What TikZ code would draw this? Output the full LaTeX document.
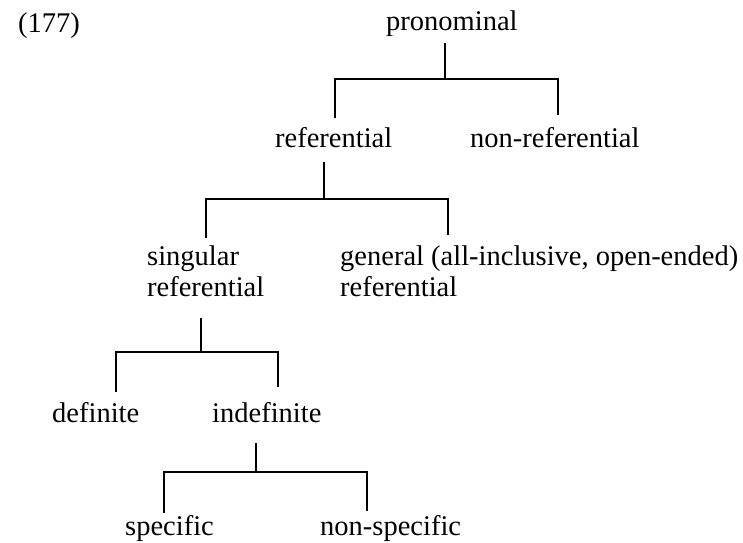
\documentclass[tikz,border=0pt]{standalone}
\usepackage{fontspec}
\setmainfont{Liberation Serif}
\begin{document}
\begin{tikzpicture}[x=1pt,y=-1pt,
  lbl/.style={anchor=base west,inner sep=0pt,font=\fontsize{28.5}{31}\selectfont},
  branch/.style={line width=1.4pt,line join=miter}]
\useasboundingbox (0,0) rectangle (743,542);

% example number
\node[lbl] (num) at (18,32) {(177)};

% category labels
\node[lbl] (pron)    at (386,30)  {pronominal};
\node[lbl] (ref)     at (275,147) {referential};
\node[lbl] (nonref)  at (470,147) {non-referential};
\node[lbl] (sing)    at (147,265) {\begin{tabular}[t]{@{}l@{}}singular\\referential\end{tabular}};
\node[lbl] (gen)     at (340,265) {\begin{tabular}[t]{@{}l@{}}general (all-inclusive, open-ended)\\referential\end{tabular}};
\node[lbl] (def)     at (52,422)  {definite};
\node[lbl] (indef)   at (212,422) {indefinite};
\node[lbl] (spec)    at (125,535) {specific};
\node[lbl] (nonspec) at (320,535) {non-specific};

% stem tops, junctions and leg ends
\coordinate (pron-s)    at (445,43);
\coordinate (pron-j)    at (445,79);
\coordinate (ref-t)     at (335,118);
\coordinate (nonref-t)  at (558,115);
\coordinate (ref-s)     at (324,162);
\coordinate (ref-j)     at (324,199);
\coordinate (sing-t)    at (206,238);
\coordinate (gen-t)     at (448,235);
\coordinate (sing-s)    at (201,318);
\coordinate (sing-j)    at (201,352);
\coordinate (def-t)     at (116,392);
\coordinate (indef-t)   at (278,387);
\coordinate (indef-s)   at (256,443);
\coordinate (indef-j)   at (256,472);
\coordinate (spec-t)    at (164,513);
\coordinate (nonspec-t) at (367,511);

% branches
\draw[branch] (pron-s) -- (pron-j);
\draw[branch] (ref-t) |- (pron-j) -| (nonref-t);
\draw[branch] (ref-s) -- (ref-j);
\draw[branch] (sing-t) |- (ref-j) -| (gen-t);
\draw[branch] (sing-s) -- (sing-j);
\draw[branch] (def-t) |- (sing-j) -| (indef-t);
\draw[branch] (indef-s) -- (indef-j);
\draw[branch] (spec-t) |- (indef-j) -| (nonspec-t);
\end{tikzpicture}
\end{document}
